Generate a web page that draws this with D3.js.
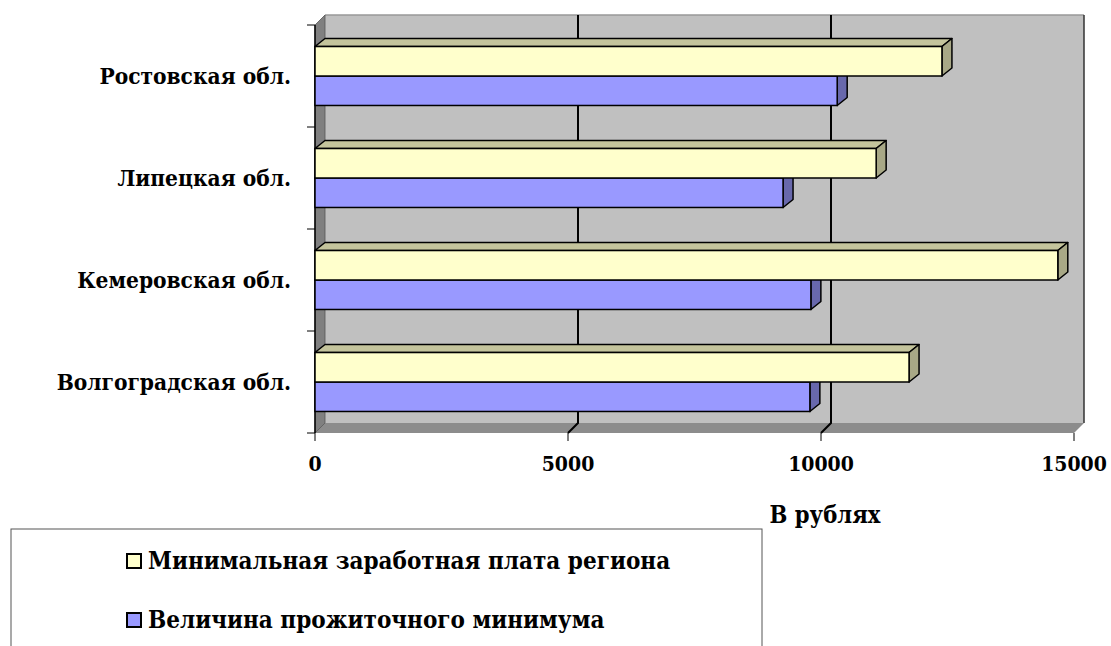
<!DOCTYPE html>
<html>
<head>
<meta charset="utf-8">
<script src="https://cdnjs.cloudflare.com/ajax/libs/d3/7.8.5/d3.min.js"></script>
<style>
  body { margin: 0; background: #fff; }
</style>
</head>
<body>
<svg width="1111" height="646"></svg>
<script>
// regions, top to bottom as drawn
var regions = ['Ростовская обл.', 'Липецкая обл.', 'Кемеровская обл.', 'Волгоградская обл.'];
var minWage = [12390, 11090, 14680, 11740];       // Минимальная заработная плата региона
var subsistence = [10320, 9250, 9800, 9780];      // Величина прожиточного минимума
var xTicks = [0, 5000, 10000, 15000];
var seriesNames = ['Минимальная заработная плата региона', 'Величина прожиточного минимума'];
var axisTitle = 'В рублях';

var FONT = "'DejaVu Serif Condensed', 'DejaVu Serif', serif";

var svg = d3.select('svg');

// front plane of the 3d box
var pLeft = 315, pRight = 1074, pTop = 25, pBottom = 433;
var wallDx = 10, wallDy = 10;   // depth of walls
var barDx = 10, barDy = 8;      // depth of bars

var x = d3.scaleLinear().domain([0, 15000]).range([pLeft, pRight]);
var y = d3.scaleBand().domain(regions).range([pTop, pBottom]);
var keys = ['wage', 'sub'];
var ySub = d3.scaleBand().domain(keys).range([0, y.bandwidth()]).paddingOuter(0.73);

var colors = {
  wage: { front: '#ffffcc', top: '#c4c49c', side: '#a8a886' },
  sub:  { front: '#9999ff', top: '#7a7acc', side: '#6868ac' }
};

function poly(pts) { return 'M' + pts.map(function(p) { return p.join(','); }).join('L') + 'Z'; }

function label(sel) {
  return sel.attr('font-family', FONT).attr('font-weight', 'bold')
    .style('font-stretch', 'condensed').attr('fill', '#000');
}

// back wall
svg.append('path')
  .attr('d', poly([[pLeft + wallDx, pTop - wallDy], [pRight + wallDx, pTop - wallDy], [pRight + wallDx, pBottom - wallDy], [pLeft + wallDx, pBottom - wallDy]]))
  .attr('fill', '#c0c0c0');
svg.append('line')
  .attr('x1', pLeft + wallDx).attr('x2', pRight + wallDx)
  .attr('y1', pTop - wallDy).attr('y2', pTop - wallDy)
  .attr('stroke', '#999').attr('stroke-width', 1.5);
svg.append('line')
  .attr('x1', pRight + wallDx).attr('x2', pRight + wallDx)
  .attr('y1', pTop - wallDy).attr('y2', pBottom - wallDy)
  .attr('stroke', '#333').attr('stroke-width', 1.5);

// floor
svg.append('path')
  .attr('d', poly([[pLeft, pBottom], [pLeft + wallDx, pBottom - wallDy], [pRight + wallDx, pBottom - wallDy], [pRight, pBottom]]))
  .attr('fill', '#8c8c8c');

// left wall
svg.append('path')
  .attr('d', poly([[pLeft, pTop], [pLeft + wallDx, pTop - wallDy], [pLeft + wallDx, pBottom - wallDy], [pLeft, pBottom]]))
  .attr('fill', '#808080').attr('stroke', '#555').attr('stroke-width', 0.8);

// gridlines on back wall + floor
svg.selectAll('.grid')
  .data(xTicks.filter(function(d) { return d > 0 && d < 15000; }))
  .enter().append('path')
    .attr('class', 'grid')
    .attr('d', function(d) {
      var gx = x(d) + wallDx;
      return 'M' + gx + ',' + (pTop - wallDy) + 'L' + gx + ',' + (pBottom - wallDy) + 'L' + x(d) + ',' + pBottom;
    })
    .attr('fill', 'none').attr('stroke', '#000').attr('stroke-width', 2);

// floor front edge ticks
svg.selectAll('.xtick')
  .data(xTicks)
  .enter().append('line')
    .attr('x1', function(d) { return x(d); }).attr('x2', function(d) { return x(d); })
    .attr('y1', pBottom).attr('y2', pBottom + 8)
    .attr('stroke', '#000').attr('stroke-width', 1);

// left axis line and ticks
svg.append('line')
  .attr('x1', pLeft).attr('x2', pLeft).attr('y1', pTop).attr('y2', pBottom)
  .attr('stroke', '#000').attr('stroke-width', 1.5);
svg.selectAll('.ytick')
  .data(regions.concat(['end']))
  .enter().append('line')
    .attr('x1', pLeft - 8).attr('x2', pLeft)
    .attr('y1', function(d, i) { return pTop + i * y.step(); })
    .attr('y2', function(d, i) { return pTop + i * y.step(); })
    .attr('stroke', '#000').attr('stroke-width', 1);

// bars
var rows = regions.map(function(r, i) { return { region: r, wage: minWage[i], sub: subsistence[i] }; });

function drawBar(g, key, d) {
  var y0 = y(d.region) + ySub(key), h = ySub.bandwidth();
  var x0 = x(0), x1 = x(d[key]);
  var c = colors[key];
  g.append('path')
    .attr('d', poly([[x0, y0], [x0 + barDx, y0 - barDy], [x1 + barDx, y0 - barDy], [x1, y0]]))
    .attr('fill', c.top).attr('stroke', '#000').attr('stroke-width', 1.5).attr('stroke-linejoin', 'round');
  g.append('path')
    .attr('d', poly([[x1, y0], [x1 + barDx, y0 - barDy], [x1 + barDx, y0 + h - barDy], [x1, y0 + h]]))
    .attr('fill', c.side).attr('stroke', '#000').attr('stroke-width', 1.5).attr('stroke-linejoin', 'round');
  g.append('rect')
    .attr('x', x0).attr('y', y0).attr('width', x1 - x0).attr('height', h)
    .attr('fill', c.front).attr('stroke', '#000').attr('stroke-width', 1.5);
}

var bars = svg.append('g');
rows.forEach(function(d) {
  drawBar(bars, 'sub', d);
  drawBar(bars, 'wage', d);
});

// category labels
svg.selectAll('.cat')
  .data(regions)
  .enter().append('text')
    .call(label)
    .attr('x', 291)
    .attr('y', function(d) { return y(d) + y.bandwidth() / 2; })
    .attr('dy', '0.35em')
    .attr('text-anchor', 'end')
    .attr('font-size', 22.5)
    .text(function(d) { return d; });

// x tick labels
svg.selectAll('.xlab')
  .data(xTicks)
  .enter().append('text')
    .call(label)
    .attr('x', function(d) { return x(d); })
    .attr('y', 464)
    .attr('dy', '0.35em')
    .attr('text-anchor', 'middle')
    .attr('font-size', 21)
    .text(function(d) { return d; });

svg.append('text')
  .call(label)
  .attr('x', 825).attr('y', 515).attr('dy', '0.35em')
  .attr('text-anchor', 'middle').attr('font-size', 23.5)
  .text(axisTitle);

// legend
svg.append('rect')
  .attr('x', 11).attr('y', 529).attr('width', 751).attr('height', 140)
  .attr('fill', '#fff').attr('stroke', '#555').attr('stroke-width', 1);

var legend = svg.selectAll('.leg')
  .data(keys)
  .enter().append('g')
    .attr('transform', function(d, i) { return 'translate(127,' + (554 + i * 59) + ')'; });
legend.append('rect')
  .attr('width', 14).attr('height', 14)
  .attr('fill', function(d) { return colors[d].front; })
  .attr('stroke', '#000').attr('stroke-width', 2);
legend.append('text')
  .call(label)
  .attr('x', 21).attr('y', 7).attr('dy', '0.35em')
  .attr('font-size', 24)
  .text(function(d, i) { return seriesNames[i]; });
</script>
</body>
</html>
